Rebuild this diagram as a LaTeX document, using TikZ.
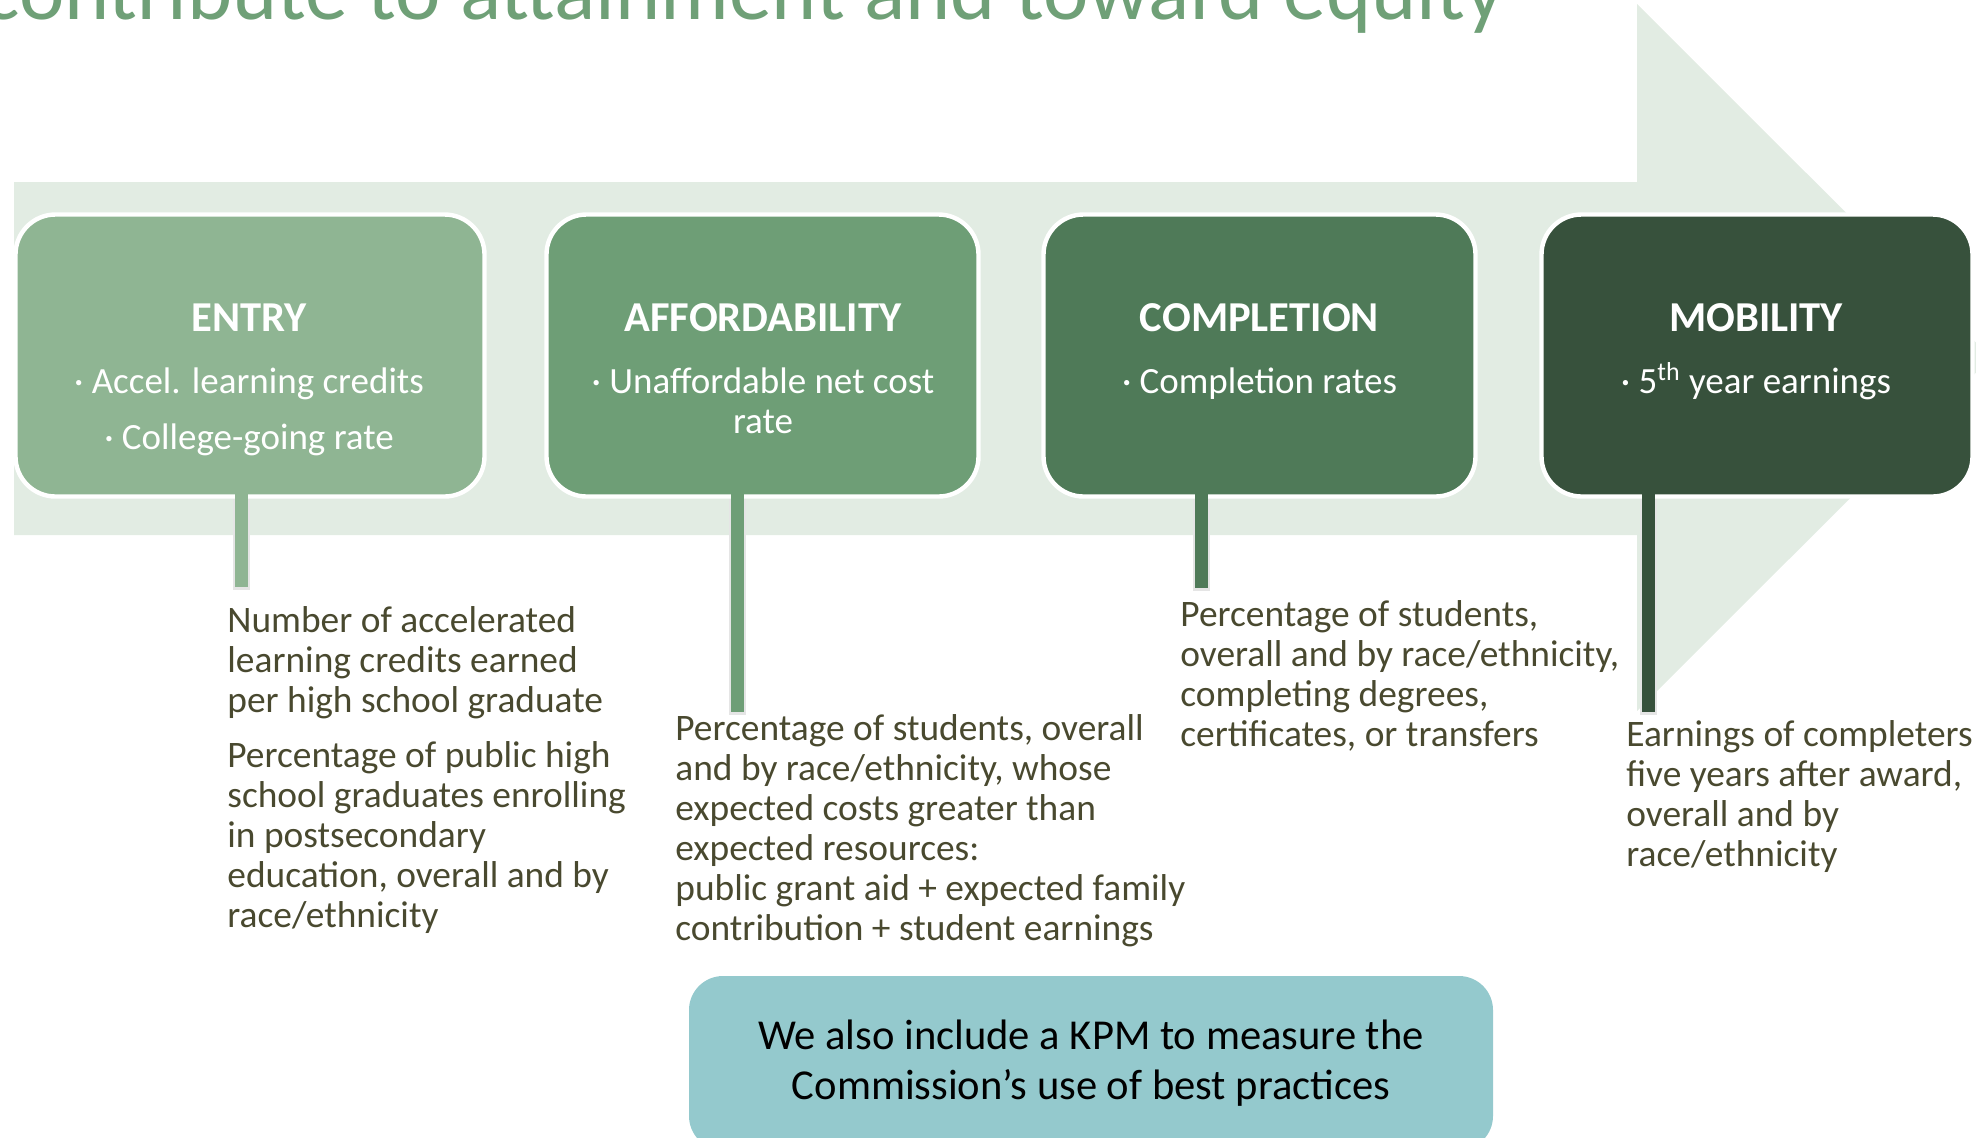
\documentclass[tikz,border=0pt]{standalone}
\usepackage{fontspec}
\setmainfont{Carlito}
\definecolor{arrowbg}{HTML}{E2ECE3}
\definecolor{entryc}{HTML}{8FB593}
\definecolor{affordc}{HTML}{6E9E76}
\definecolor{completec}{HTML}{4F7A58}
\definecolor{mobilityc}{HTML}{37513C}
\definecolor{bodytext}{HTML}{49492F}
\definecolor{kpmc}{HTML}{94C9CD}
\definecolor{headline}{HTML}{6FA077}

\begin{document}
\begin{tikzpicture}[
    x=0.5pt, y=-0.5pt,
    box/.style={draw=white, line width=2.2pt, rounded corners=20pt, minimum height=141pt, inner sep=0pt},
    head/.style={anchor=base, inner sep=0pt, text=white, font=\fontsize{21.3}{24}\selectfont\bfseries},
    item/.style={anchor=base, inner sep=0pt, text=white, align=center, font=\fontsize{18.5}{20}\selectfont},
    desc/.style={anchor=base west, inner sep=0pt, text=bodytext, align=left, font=\fontsize{18.7}{20}\selectfont},
    stem/.style={line width=6.5pt},
    stemshadow/.style={line width=8.5pt, black!10},
    kpm/.style={fill=kpmc, rounded corners=17pt, minimum width=402pt, minimum height=87pt, align=center, font=\fontsize{21.3}{25}\selectfont},
]
    \useasboundingbox (0,0) rectangle (1976,1137);

    % Heading, cut by the page edge
    \node[anchor=base west, inner sep=0pt, text=headline, font=\fontsize{43}{50}\selectfont] (headline) at (-17,19) {contribute to attainment and toward equity};

    % Background arrow
    \fill[arrowbg] (14,182) -- (1637,182) -- (1637,4) -- (1991,357.5) -- (1637,711) -- (1637,535) -- (14,535) -- cycle;

    % Boxes and stems
    \foreach \nm/\cx/\bw/\col/\sx/\sy in {entry/250/234.5/entryc/241.5/587,
                                          afford/762.5/216/affordc/737/712,
                                          complete/1259.5/216/completec/1201/588,
                                          mobility/1757/215.5/mobilityc/1648/712} {
        \node[box, fill=\col, minimum width=\bw pt] (\nm) at (\cx,355.5) {};
        \coordinate (\nm stem) at (\sx,\sy);
        \draw[stemshadow] (\nm stem |- \nm.south) -- ([yshift=-1.5pt]\nm stem);
        \draw[stem, draw=\col] ([yshift=3pt]\nm stem |- \nm.south) -- (\nm stem);
    }

    % Box texts (base = last line)
    \node[head] (entryhd) at (249,331) {ENTRY};
    \node[item] (entryit1) at (249,393) {· Accel. learning credits};
    \node[item] (entryit2) at (249,449) {· College-going rate};
    \node[head] (affordhd) at (763,331) {AFFORDABILITY};
    \node[item] (affordit) at (763,433) {· Unaffordable net cost\\rate};
    \node[head] (completehd) at (1259.5,331) {COMPLETION};
    \node[item] (completeit) at (1259.5,393) {· Completion rates};
    \node[head] (mobilityhd) at (1756,331) {MOBILITY};
    \node[item] (mobilityit) at (1756,393) {· 5\textsuperscript{th} year earnings};

    % Measure descriptions (base = last line)
    \node[desc] (entrydesca) at (227,712) {Number of accelerated\\learning credits earned\\per high school graduate};
    \node[desc] (entrydescb) at (227,927) {Percentage of public high\\school graduates enrolling\\in postsecondary\\education, overall and by\\race/ethnicity};
    \node[desc] (afforddesc) at (675,940) {Percentage of students, overall\\and by race/ethnicity, whose\\expected costs greater than\\expected resources:\\public grant aid + expected family\\contribution + student earnings};
    \node[desc] (completedesc) at (1180,746) {Percentage of students,\\overall and by race/ethnicity,\\completing degrees,\\certificates, or transfers};
    \node[desc] (mobilitydesc) at (1626,866) {Earnings of completers\\five years after award,\\overall and by\\race/ethnicity};

    % KPM note
    \node[kpm] (kpm) at (1091,1063) {We also include a KPM to measure the\\Commission’s use of best practices};
\end{tikzpicture}
\end{document}
